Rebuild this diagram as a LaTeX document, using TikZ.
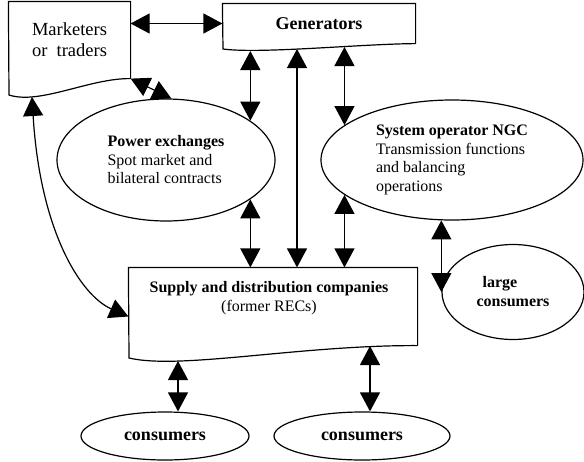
\documentclass[tikz,border=0pt]{standalone}
\usepackage{fontspec}
\setmainfont{Liberation Serif}
\usetikzlibrary{arrows.meta, shapes.geometric}

\begin{document}
\begin{tikzpicture}
  [x=1pt, y=-1pt, line width=1.2pt,
   dbl/.style={{Triangle[length=19pt,width=20pt]}-{Triangle[length=19pt,width=20pt]}},
   docbox/.style={rectangle, inner sep=0pt},
   oval/.style={ellipse, draw, inner sep=0pt, font=\fontsize{16}{18.5}\selectfont}]

  \useasboundingbox (0,0) rectangle (584,461);

  % boxes with a wavy lower edge
  \node[docbox, minimum width=121pt, minimum height=76pt, align=left,
        font=\fontsize{18.5}{21}\selectfont] (mt) at (69.5,40) {Marketers\\or~~traders};
  \draw (mt.south east) -- (mt.north east) -- (mt.north west) -- (9,95)
        .. controls (40,105) and (90,78) .. (mt.south east);

  \node[docbox, minimum width=192pt, minimum height=39pt,
        font=\fontsize{18}{21}\selectfont\bfseries] (gen) at (319,23.5) {Generators};
  \draw (gen.south east) -- (gen.north east) -- (gen.north west) -- (223,49)
        .. controls (260,54) and (360,44) .. (gen.south east);

  \node[docbox, minimum width=288pt, minimum height=77pt] (sd) at (273,306.5) {};
  \draw (sd.south east) -- (sd.north east) -- (sd.north west) -- (129,358)
        .. controls (180,370) and (300,345) .. (sd.south east);
  \node[align=center, inner sep=0pt, font=\fontsize{16}{19}\selectfont] (sdtext) at (269,298)
        {\textbf{Supply and distribution companies}\\(former RECs)};

  % ellipses
  \node[oval, minimum width=218pt, minimum height=122pt, align=left] (pe) at (166,160)
        {\textbf{Power exchanges}\\Spot market and\\bilateral contracts};
  \node[oval, minimum width=262pt, minimum height=120pt, align=left] (so) at (452,160)
        {\textbf{System operator NGC}\\Transmission functions\\and balancing\\operations};
  \node[oval, minimum width=142pt, minimum height=95pt, align=left, font=\fontsize{16}{19}\selectfont\bfseries]
        (lc) at (513,292) {\hspace*{6pt}large\\consumers};
  \node[oval, minimum width=168pt, minimum height=48pt, font=\fontsize{18}{21}\selectfont\bfseries]
        (c1) at (165,436) {consumers};
  \node[oval, minimum width=176pt, minimum height=48pt, font=\fontsize{18}{21}\selectfont\bfseries]
        (c2) at (362,436) {consumers};

  % points on the wavy edges
  \coordinate (m1) at (32,97);
  \coordinate (g1) at (250,51);
  \coordinate (g2) at (297,49);
  \coordinate (g3) at (345,47);
  \coordinate (s1) at (178,361);
  \coordinate (s2) at (370,346);

  % connectors
  \draw[dbl] (gen.west -| mt.east) -- (gen.west);
  \draw[dbl] (mt.south east) -- (pe.85);
  \draw[dbl] (pe.25 |- g1) -- (pe.25);
  \draw[dbl] (g2) -- (g2 |- sd.north);
  \draw[dbl] (so.162 |- g3) -- (so.162);
  \draw[dbl] (pe.-25) -- (pe.-25 |- sd.north);
  \draw[dbl] (so.198) -- (so.198 |- sd.north);
  \draw[dbl] (so.260) -- (so.260 |- lc.west);
  \draw[dbl] (m1) .. controls (40,230) and (80,295) .. ([yshift=-10pt]sd.west);
  \draw[dbl] (s1) -- (s1 |- c1.north);
  \draw[dbl] (s2) -- (s2 |- c2.north);

\end{tikzpicture}
\end{document}
